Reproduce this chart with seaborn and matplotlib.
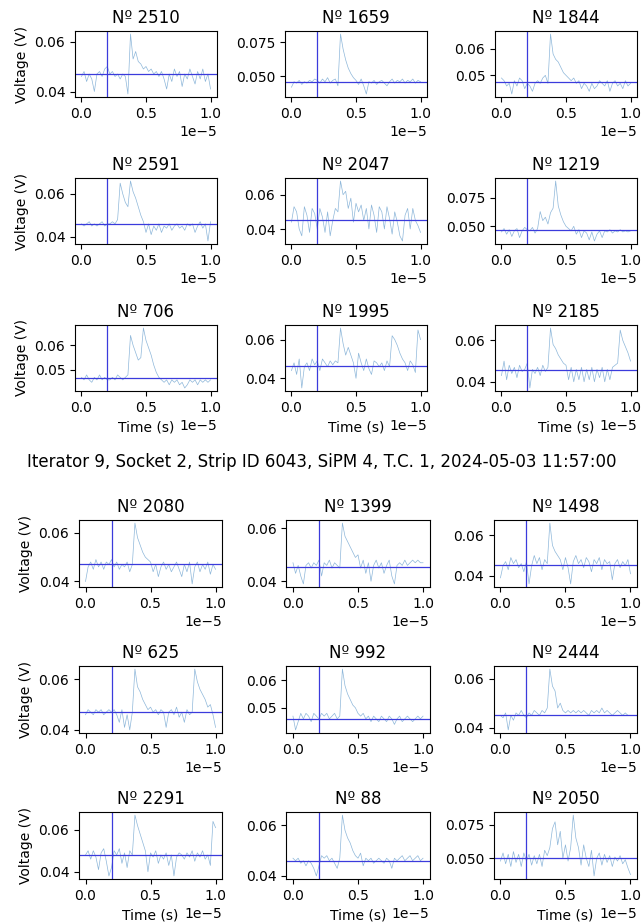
import matplotlib
matplotlib.use("Agg")
import matplotlib.pyplot as plt
import seaborn as sns
import pandas as pd

# ---------------- data ----------------
time_s = [0.00e-5, 0.02e-5, 0.04e-5, 0.06e-5, 0.08e-5, 0.10e-5, 0.12e-5, 0.14e-5, 0.16e-5, 0.18e-5,
          0.20e-5, 0.22e-5, 0.24e-5, 0.26e-5, 0.28e-5, 0.30e-5, 0.32e-5, 0.34e-5, 0.36e-5, 0.38e-5,
          0.40e-5, 0.42e-5, 0.44e-5, 0.46e-5, 0.48e-5, 0.50e-5, 0.52e-5, 0.54e-5, 0.56e-5, 0.58e-5,
          0.60e-5, 0.62e-5, 0.64e-5, 0.66e-5, 0.68e-5, 0.70e-5, 0.72e-5, 0.74e-5, 0.76e-5, 0.78e-5,
          0.80e-5, 0.82e-5, 0.84e-5, 0.86e-5, 0.88e-5, 0.90e-5, 0.92e-5, 0.94e-5, 0.96e-5, 0.98e-5,
          1.00e-5]

trigger_time = 0.2e-5

suptitle_bottom = "Iterator 9, Socket 2, Strip ID 6043, SiPM 4, T.C. 1, 2024-05-03 11:57:00"

ids_top = [2510, 1659, 1844, 2591, 2047, 1219, 706, 1995, 2185]
ids_bottom = [2080, 1399, 1498, 625, 992, 2444, 2291, 88, 2050]

baseline_top = [0.0469, 0.0455, 0.0475, 0.0460, 0.0455, 0.0465, 0.0468, 0.0465, 0.0455]
baseline_bottom = [0.0470, 0.0455, 0.0455, 0.0470, 0.0460, 0.0450, 0.0480, 0.0460, 0.0500]

w2510 = [0.046, 0.048, 0.044, 0.047, 0.045, 0.040, 0.047, 0.048, 0.046, 0.049,
         0.050, 0.047, 0.048, 0.046, 0.047, 0.045, 0.047, 0.046, 0.039, 0.063,
         0.053, 0.056, 0.052, 0.051, 0.049, 0.050, 0.048, 0.049, 0.047, 0.048,
         0.046, 0.048, 0.045, 0.041, 0.047, 0.044, 0.049, 0.046, 0.048, 0.042,
         0.047, 0.045, 0.049, 0.046, 0.043, 0.048, 0.045, 0.049, 0.044, 0.047, 0.041]
w1659 = [0.042, 0.046, 0.045, 0.047, 0.044, 0.046, 0.045, 0.047, 0.046, 0.048,
         0.047, 0.045, 0.048, 0.046, 0.049, 0.045, 0.047, 0.048, 0.043, 0.081,
         0.070, 0.062, 0.056, 0.052, 0.049, 0.047, 0.044, 0.048, 0.043, 0.037,
         0.046, 0.045, 0.047, 0.044, 0.046, 0.047, 0.045, 0.043, 0.046, 0.048,
         0.045, 0.047, 0.046, 0.048, 0.045, 0.047, 0.046, 0.048, 0.045, 0.047, 0.046]
w1844 = [0.049, 0.048, 0.046, 0.047, 0.043, 0.048, 0.046, 0.049, 0.048, 0.045,
         0.047, 0.046, 0.044, 0.047, 0.048, 0.047, 0.049, 0.050, 0.047, 0.0655,
         0.058, 0.056, 0.055, 0.053, 0.051, 0.050, 0.049, 0.048, 0.049, 0.047,
         0.048, 0.045, 0.047, 0.046, 0.044, 0.047, 0.045, 0.046, 0.048, 0.047,
         0.046, 0.048, 0.044, 0.047, 0.048, 0.046, 0.047, 0.045, 0.048, 0.046, 0.047]
w2591 = [0.046, 0.045, 0.046, 0.047, 0.045, 0.046, 0.045, 0.046, 0.047, 0.045,
         0.046, 0.046, 0.047, 0.046, 0.048, 0.065, 0.060, 0.056, 0.054, 0.066,
         0.061, 0.058, 0.054, 0.050, 0.047, 0.042, 0.046, 0.041, 0.045, 0.043,
         0.046, 0.042, 0.045, 0.044, 0.046, 0.043, 0.045, 0.046, 0.044, 0.045,
         0.043, 0.046, 0.045, 0.046, 0.042, 0.045, 0.047, 0.044, 0.046, 0.038, 0.047]
w2047 = [0.044, 0.053, 0.050, 0.040, 0.036, 0.053, 0.048, 0.038, 0.052, 0.049,
         0.040, 0.052, 0.047, 0.038, 0.050, 0.036, 0.045, 0.052, 0.050, 0.068,
         0.060, 0.062, 0.052, 0.058, 0.044, 0.055, 0.050, 0.054, 0.045, 0.052,
         0.040, 0.054, 0.048, 0.038, 0.053, 0.050, 0.040, 0.053, 0.046, 0.037,
         0.050, 0.044, 0.036, 0.033, 0.048, 0.052, 0.040, 0.052, 0.045, 0.042, 0.038]
w1219 = [0.045, 0.048, 0.043, 0.047, 0.041, 0.046, 0.048, 0.040, 0.046, 0.049,
         0.047, 0.046, 0.049, 0.044, 0.048, 0.063, 0.055, 0.058, 0.052, 0.062,
         0.066, 0.090, 0.068, 0.060, 0.054, 0.050, 0.048, 0.046, 0.050, 0.043,
         0.047, 0.040, 0.046, 0.044, 0.038, 0.045, 0.037, 0.043, 0.046, 0.040,
         0.046, 0.045, 0.047, 0.044, 0.046, 0.045, 0.047, 0.045, 0.046, 0.045, 0.046]
w706 = [0.047, 0.046, 0.048, 0.046, 0.045, 0.047, 0.046, 0.048, 0.046, 0.047,
        0.046, 0.046, 0.047, 0.046, 0.048, 0.047, 0.046, 0.047, 0.048, 0.064,
        0.060, 0.057, 0.054, 0.055, 0.067, 0.062, 0.059, 0.056, 0.052, 0.049,
        0.047, 0.046, 0.045, 0.046, 0.044, 0.046, 0.045, 0.046, 0.044, 0.045,
        0.0427, 0.044, 0.046, 0.045, 0.046, 0.044, 0.046, 0.045, 0.046, 0.045, 0.046]
w1995 = [0.044, 0.048, 0.042, 0.050, 0.035, 0.046, 0.048, 0.044, 0.050, 0.047,
         0.049, 0.044, 0.050, 0.048, 0.046, 0.049, 0.047, 0.049, 0.048, 0.066,
         0.058, 0.052, 0.056, 0.052, 0.048, 0.040, 0.053, 0.048, 0.044, 0.050,
         0.045, 0.042, 0.049, 0.048, 0.046, 0.048, 0.044, 0.049, 0.046, 0.062,
         0.060, 0.057, 0.053, 0.050, 0.048, 0.044, 0.049, 0.047, 0.043, 0.065, 0.060]
w2185 = [0.043, 0.050, 0.041, 0.048, 0.044, 0.047, 0.042, 0.048, 0.045, 0.046,
         0.049, 0.037, 0.046, 0.044, 0.047, 0.043, 0.048, 0.045, 0.047, 0.066,
         0.058, 0.056, 0.053, 0.051, 0.049, 0.048, 0.041, 0.047, 0.040, 0.046,
         0.041, 0.047, 0.040, 0.046, 0.041, 0.047, 0.040, 0.046, 0.042, 0.047,
         0.040, 0.046, 0.041, 0.047, 0.048, 0.049, 0.065, 0.060, 0.057, 0.054, 0.050]

w2080 = [0.040, 0.046, 0.048, 0.045, 0.049, 0.046, 0.048, 0.045, 0.048, 0.047,
         0.049, 0.046, 0.048, 0.045, 0.047, 0.046, 0.048, 0.044, 0.047, 0.064,
         0.058, 0.055, 0.052, 0.050, 0.049, 0.048, 0.044, 0.047, 0.042, 0.046,
         0.048, 0.045, 0.047, 0.044, 0.046, 0.048, 0.045, 0.042, 0.047, 0.044,
         0.048, 0.039, 0.046, 0.048, 0.044, 0.047, 0.045, 0.048, 0.043, 0.047, 0.045]
w1399 = [0.047, 0.043, 0.046, 0.042, 0.039, 0.046, 0.047, 0.045, 0.047, 0.046,
         0.048, 0.042, 0.047, 0.046, 0.048, 0.045, 0.047, 0.046, 0.045, 0.062,
         0.057, 0.055, 0.053, 0.051, 0.049, 0.050, 0.045, 0.048, 0.043, 0.047,
         0.040, 0.046, 0.048, 0.045, 0.047, 0.043, 0.046, 0.048, 0.042, 0.039,
         0.046, 0.047, 0.046, 0.048, 0.046, 0.047, 0.048, 0.047, 0.048, 0.047, 0.047]
w1498 = [0.039, 0.045, 0.047, 0.043, 0.049, 0.046, 0.048, 0.044, 0.046, 0.042,
         0.047, 0.036, 0.045, 0.050, 0.046, 0.049, 0.043, 0.048, 0.046, 0.066,
         0.055, 0.052, 0.050, 0.048, 0.043, 0.049, 0.044, 0.036, 0.047, 0.050,
         0.046, 0.048, 0.044, 0.049, 0.047, 0.042, 0.048, 0.046, 0.049, 0.043,
         0.048, 0.046, 0.047, 0.038, 0.046, 0.048, 0.044, 0.047, 0.045, 0.048, 0.041]
w625 = [0.046, 0.048, 0.047, 0.046, 0.048, 0.047, 0.048, 0.046, 0.047, 0.048,
        0.047, 0.048, 0.046, 0.043, 0.048, 0.041, 0.046, 0.040, 0.047, 0.064,
        0.057, 0.055, 0.052, 0.050, 0.048, 0.049, 0.047, 0.048, 0.046, 0.048,
        0.047, 0.041, 0.047, 0.048, 0.046, 0.049, 0.045, 0.047, 0.043, 0.048,
        0.046, 0.047, 0.064, 0.059, 0.056, 0.054, 0.052, 0.049, 0.050, 0.046, 0.041]
w992 = [0.047, 0.042, 0.045, 0.048, 0.046, 0.048, 0.047, 0.045, 0.048, 0.047,
        0.046, 0.048, 0.047, 0.048, 0.046, 0.047, 0.048, 0.046, 0.047, 0.064,
        0.058, 0.055, 0.053, 0.051, 0.050, 0.048, 0.047, 0.048, 0.046, 0.047,
        0.045, 0.047, 0.046, 0.045, 0.047, 0.046, 0.045, 0.047, 0.046, 0.044,
        0.046, 0.047, 0.045, 0.046, 0.047, 0.046, 0.045, 0.046, 0.047, 0.046, 0.047]
w2444 = [0.045, 0.044, 0.046, 0.039, 0.045, 0.043, 0.046, 0.045, 0.047, 0.045,
         0.044, 0.046, 0.045, 0.047, 0.046, 0.045, 0.047, 0.046, 0.048, 0.064,
         0.057, 0.055, 0.048, 0.050, 0.047, 0.046, 0.047, 0.046, 0.047, 0.046,
         0.047, 0.046, 0.047, 0.046, 0.045, 0.047, 0.046, 0.047, 0.046, 0.048,
         0.046, 0.047, 0.046, 0.045, 0.046, 0.047, 0.046, 0.045, 0.046, 0.045, 0.045]
w2291 = [0.048, 0.050, 0.046, 0.050, 0.047, 0.041, 0.049, 0.051, 0.045, 0.038,
         0.042, 0.050, 0.048, 0.051, 0.044, 0.049, 0.042, 0.050, 0.048, 0.067,
         0.062, 0.058, 0.054, 0.050, 0.040, 0.049, 0.047, 0.050, 0.044, 0.048,
         0.046, 0.049, 0.043, 0.048, 0.038, 0.047, 0.049, 0.048, 0.046, 0.049,
         0.047, 0.050, 0.045, 0.049, 0.047, 0.050, 0.046, 0.048, 0.043, 0.064, 0.061]
w88 = [0.047, 0.046, 0.047, 0.045, 0.046, 0.044, 0.046, 0.045, 0.043, 0.040,
       0.044, 0.048, 0.047, 0.048, 0.046, 0.047, 0.045, 0.043, 0.047, 0.064,
       0.058, 0.055, 0.053, 0.050, 0.048, 0.047, 0.049, 0.044, 0.047, 0.046,
       0.047, 0.045, 0.046, 0.047, 0.046, 0.045, 0.047, 0.046, 0.043, 0.047,
       0.046, 0.047, 0.048, 0.046, 0.047, 0.048, 0.046, 0.047, 0.048, 0.046, 0.047]
w2050 = [0.048, 0.054, 0.046, 0.053, 0.044, 0.055, 0.047, 0.053, 0.044, 0.054,
         0.048, 0.053, 0.045, 0.052, 0.046, 0.053, 0.044, 0.056, 0.052, 0.058,
         0.072, 0.077, 0.060, 0.070, 0.050, 0.060, 0.048, 0.058, 0.082, 0.065,
         0.058, 0.045, 0.060, 0.050, 0.044, 0.056, 0.037, 0.050, 0.054, 0.045,
         0.053, 0.047, 0.052, 0.044, 0.051, 0.048, 0.052, 0.046, 0.049, 0.043, 0.038]

waves_top = [w2510, w1659, w1844, w2591, w2047, w1219, w706, w1995, w2185]
waves_bottom = [w2080, w1399, w1498, w625, w992, w2444, w2291, w88, w2050]

# ---------------- figure ----------------
fig = plt.figure(figsize=(6.44, 9.24), dpi=100)

gs_top = fig.add_gridspec(3, 3, left=75 / 644, right=637 / 644,
                          top=1 - 31 / 924, bottom=1 - 391 / 924,
                          wspace=0.479, hspace=1.227)
gs_bot = fig.add_gridspec(3, 3, left=79 / 644, right=637 / 644,
                          top=1 - 520 / 924, bottom=1 - 879 / 924,
                          wspace=0.45, hspace=1.18)

wave_color = "#7aaad3"
marker_color = "#3b3bdc"


def draw_group(gs, ids, waves, baselines):
    for k in range(9):
        r, c = divmod(k, 3)
        ax = fig.add_subplot(gs[r, c])
        df = pd.DataFrame({"t": time_s, "v": waves[k]})
        sns.lineplot(data=df, x="t", y="v", ax=ax, color=wave_color,
                     linewidth=0.5, alpha=0.85)
        ax.axvline(trigger_time, color=marker_color, linewidth=0.9)
        ax.axhline(baselines[k], color=marker_color, linewidth=0.9)
        ax.set_title(f"Nº {ids[k]}", fontsize=12)
        ax.set_xticks([0.0, 0.5e-5, 1.0e-5])
        ax.ticklabel_format(axis="x", style="sci", scilimits=(0, 0))
        ax.set_ylabel("Voltage (V)" if c == 0 else "")
        ax.set_xlabel("Time (s)" if r == 2 else "")


draw_group(gs_top, ids_top, waves_top, baseline_top)
draw_group(gs_bot, ids_bottom, waves_bottom, baseline_bottom)

fig.text(0.5, 1 - 462 / 924, suptitle_bottom, ha="center", va="center", fontsize=12)

fig.savefig("out.png", dpi=100)
